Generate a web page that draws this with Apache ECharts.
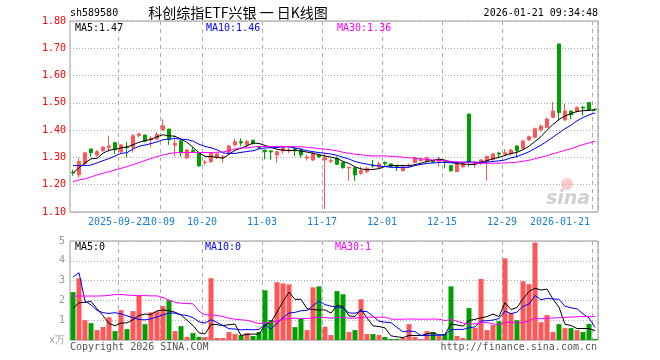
<!DOCTYPE html>
<html><head><meta charset="utf-8">
<script src="https://cdn.jsdelivr.net/npm/echarts@6/dist/echarts.min.js"></script>
<style>html,body{margin:0;padding:0;background:#fff}#c{width:660px;height:360px}</style>
</head><body><div id="c"></div>
<script>
const dates = ['2025-09-10','2025-09-11','2025-09-12','2025-09-15','2025-09-16','2025-09-17','2025-09-18','2025-09-19',
'2025-09-22','2025-09-23','2025-09-24','2025-09-25','2025-09-26','2025-09-29','2025-09-30',
'2025-10-09','2025-10-10','2025-10-13','2025-10-14','2025-10-15','2025-10-16','2025-10-17',
'2025-10-20','2025-10-21','2025-10-22','2025-10-23','2025-10-24','2025-10-27','2025-10-28','2025-10-29','2025-10-30','2025-10-31',
'2025-11-03','2025-11-04','2025-11-05','2025-11-06','2025-11-07','2025-11-10','2025-11-11','2025-11-12','2025-11-13','2025-11-14',
'2025-11-17','2025-11-18','2025-11-19','2025-11-20','2025-11-21','2025-11-24','2025-11-25','2025-11-26','2025-11-27','2025-11-28',
'2025-12-01','2025-12-02','2025-12-03','2025-12-04','2025-12-05','2025-12-08','2025-12-09','2025-12-10','2025-12-11','2025-12-12',
'2025-12-15','2025-12-16','2025-12-17','2025-12-18','2025-12-19','2025-12-22','2025-12-23','2025-12-24','2025-12-25','2025-12-26',
'2025-12-29','2025-12-30','2025-12-31','2026-01-05','2026-01-06','2026-01-07','2026-01-08','2026-01-09',
'2026-01-12','2026-01-13','2026-01-14','2026-01-15','2026-01-16','2026-01-19','2026-01-20','2026-01-21'];

const opens = [1.245,1.236,1.276,1.331,1.309,1.325,1.336,1.354,1.321,1.339,
1.336,1.380,1.382,1.365,1.368,1.401,1.404,1.345,1.361,1.299,
1.326,1.315,1.281,1.285,1.300,1.299,1.315,1.346,1.358,1.347,
1.362,1.338,1.327,1.324,1.309,1.324,1.324,1.333,1.327,1.298,
1.291,1.308,1.291,1.286,1.297,1.281,1.261,1.262,1.242,1.248,
1.272,1.264,1.282,1.276,1.268,1.252,1.268,1.281,1.288,1.285,
1.287,1.285,1.286,1.270,1.248,1.266,1.459,1.277,1.278,1.285,
1.293,1.316,1.311,1.313,1.342,1.333,1.364,1.374,1.401,1.410,
1.447,1.716,1.437,1.470,1.468,1.484,1.501,1.477];

const closes = [1.243,1.285,1.317,1.317,1.321,1.337,1.342,1.330,1.346,1.336,
1.379,1.386,1.360,1.370,1.384,1.416,1.366,1.352,1.317,1.327,
1.322,1.269,1.283,1.315,1.313,1.303,1.342,1.358,1.353,1.358,
1.352,1.335,1.321,1.320,1.321,1.336,1.328,1.324,1.309,1.301,
1.315,1.302,1.299,1.289,1.275,1.263,1.264,1.236,1.252,1.260,
1.269,1.276,1.278,1.267,1.264,1.266,1.272,1.299,1.293,1.299,
1.283,1.294,1.282,1.251,1.275,1.278,1.285,1.283,1.291,1.303,
1.313,1.312,1.317,1.327,1.325,1.360,1.376,1.405,1.415,1.441,
1.470,1.464,1.470,1.456,1.484,1.481,1.474,1.474];

const highs = [1.255,1.297,1.320,1.332,1.327,1.342,1.379,1.357,1.349,1.356,
1.386,1.391,1.383,1.378,1.394,1.440,1.405,1.381,1.362,1.332,
1.337,1.316,1.291,1.319,1.318,1.309,1.346,1.370,1.370,1.366,
1.366,1.341,1.328,1.325,1.323,1.340,1.336,1.335,1.333,1.309,
1.321,1.313,1.315,1.297,1.303,1.283,1.265,1.266,1.266,1.266,
1.291,1.284,1.285,1.278,1.270,1.268,1.278,1.303,1.299,1.303,
1.290,1.303,1.287,1.271,1.278,1.284,1.460,1.286,1.293,1.307,
1.315,1.321,1.330,1.331,1.344,1.364,1.380,1.409,1.421,1.446,
1.503,1.716,1.496,1.472,1.486,1.488,1.504,1.478];

const lows = [1.233,1.226,1.272,1.303,1.303,1.320,1.320,1.313,1.316,1.300,
1.318,1.374,1.355,1.337,1.364,1.397,1.346,1.303,1.303,1.294,
1.318,1.266,1.272,1.279,1.294,1.281,1.309,1.340,1.342,1.337,
1.346,1.331,1.293,1.290,1.281,1.313,1.315,1.305,1.299,1.288,
1.287,1.298,1.111,1.279,1.272,1.258,1.214,1.214,1.236,1.242,
1.262,1.260,1.266,1.264,1.250,1.248,1.265,1.278,1.285,1.281,
1.280,1.266,1.260,1.248,1.246,1.262,1.266,1.262,1.272,1.215,
1.288,1.297,1.305,1.307,1.300,1.330,1.360,1.370,1.395,1.407,
1.443,1.435,1.435,1.440,1.464,1.453,1.470,1.471];

// volume in 万
const volumes = [2.42,3.11,1.00,0.85,0.50,0.66,1.15,0.45,1.51,0.55,
1.46,2.23,0.80,1.40,1.45,1.71,2.01,0.45,0.70,0.16,
0.35,0.16,0.15,3.12,0.10,0.10,0.40,0.30,0.25,0.35,
0.20,0.40,2.51,1.01,2.92,2.86,2.81,0.65,1.06,0.50,
2.66,2.71,0.67,0.25,2.47,2.31,0.40,0.50,2.06,0.30,
0.30,0.25,0.15,0.05,0.05,0.10,0.80,0.15,0.05,0.45,
0.40,0.20,0.30,2.71,0.20,0.10,1.61,0.61,3.08,0.50,
0.76,0.95,4.12,1.37,1.00,2.97,2.82,4.92,0.90,1.26,
0.40,0.80,0.60,0.60,0.50,0.40,0.81,0.05];

const ma5Early = [1.243,1.262,1.280,1.295];
const ma10Early = [1.270,1.270,1.270,1.272,1.280,1.288,1.296,1.305,1.315];
const ma30Early = [1.211,1.217,1.222,1.228,1.236,1.242,1.248,1.254,1.260,1.266,1.274,1.281,1.289,1.296,1.303,
1.309,1.314,1.317,1.318,1.318,1.318,1.318,1.318,1.318,1.319,1.320,1.325,1.331,1.335];
const volMa5Early = [1.60,1.88,1.90,1.95];
const volMa10Early = [3.18,3.40,1.96,1.78,1.50,1.38,1.34,1.38,1.32];
const volMa30Early = [2.22,2.22,2.22,2.22,2.22,2.23,2.25,2.30,2.30,2.27,2.25,2.24,2.24,2.23,2.23,
2.14,2.02,1.90,1.86,1.84,1.83,1.45,1.28,1.26,1.24,1.18,1.10,1.05,1.02];

const xTickDates = ['2025-09-22','2025-10-09','2025-10-20','2025-11-03','2025-11-17','2025-12-01','2025-12-15','2025-12-29','2026-01-21'];
const xTickLabels = ['2025-09-22','10-09','10-20','11-03','11-17','12-01','12-15','12-29','2026-01-21'];
const priceAxis = [1.10, 1.80, 0.10];
const volAxis = [0, 5, 1];
const volZeroLabel = 'x万';
const mainLegend = ['MA5:1.47','MA10:1.46','MA30:1.36'];
const volLegend = ['MA5:0','MA10:0','MA30:1'];
const headerCode = 'sh589580';
const headerTitle = '科创综指ETF兴银 一 日K线图';
const headerTime = '2026-01-21 09:34:48';
const footerLeft = 'Copyright 2026 SINA.COM';
const footerRight = 'http://finance.sina.com.cn';

function movingAvg(vals, n, early) {
  return vals.map((v, i) => {
    if (i < n - 1) return early[i];
    let s = 0;
    for (let j = i - n + 1; j <= i; j++) s += vals[j];
    return +(s / n).toFixed(4);
  });
}

const RED = '#ff5757', GREEN = '#00a000';
const MONO = '"DejaVu Sans Mono", monospace';
const tickIdx = xTickDates.map(d => dates.indexOf(d));
const firstTick = tickIdx[0];
const lastTick = tickIdx[tickIdx.length - 1];

const chart = echarts.init(document.getElementById('c'), null, {renderer: 'canvas'});
const splitX = {show: true, interval: (i) => tickIdx.indexOf(i) >= 0, lineStyle: {color: '#aaa', type: [4, 4], width: 1}};
const splitY = {show: true, lineStyle: {color: '#aaa', type: [1, 2], width: 1}};
const labelRich = {
  a: {fontFamily: MONO, fontSize: 10, color: '#1a7fd0', padding: [0, 6, 0, 0]},
  b: {fontFamily: MONO, fontSize: 10, color: '#1a7fd0', padding: [0, 70, 0, 0]}
};
const labelFmt = (v, i) => {
  const k = tickIdx.indexOf(i);
  const t = k >= 0 ? xTickLabels[k] : '';
  return i === lastTick ? '{b|' + t + '}' : '{a|' + t + '}';
};

const option = {
  animation: false,
  backgroundColor: '#fff',
  grid: [
    {left: 70, top: 21, width: 528, height: 191, show: true, borderColor: '#999', borderWidth: 1, containLabel: false},
    {left: 70, top: 241, width: 528, height: 99, show: true, borderColor: '#999', borderWidth: 1, containLabel: false}
  ],
  xAxis: [
    {type: 'category', gridIndex: 0, data: dates, boundaryGap: true, position: 'bottom', offset: 0,
     axisLine: {show: false}, axisTick: {show: false}, splitLine: splitX,
     axisLabel: {show: true, interval: (i) => i !== firstTick && tickIdx.indexOf(i) >= 0, margin: 5,
       showMinLabel: true, showMaxLabel: true, hideOverlap: false, formatter: labelFmt, rich: labelRich}},
    {type: 'category', gridIndex: 1, data: dates, boundaryGap: true,
     axisLine: {show: false}, axisTick: {show: false}, axisLabel: {show: false}, splitLine: splitX},
    {type: 'category', gridIndex: 0, data: dates, boundaryGap: true, position: 'bottom', offset: 0,
     axisLine: {show: false}, axisTick: {show: false}, splitLine: {show: false},
     axisLabel: {show: true, interval: (i) => i === firstTick, margin: 5,
       showMinLabel: true, showMaxLabel: false, hideOverlap: false, formatter: labelFmt, rich: labelRich}}
  ],
  yAxis: [
    {type: 'value', gridIndex: 0, min: priceAxis[0], max: priceAxis[1], interval: priceAxis[2], scale: true,
     axisLine: {show: false}, axisTick: {show: false}, splitLine: splitY,
     axisLabel: {color: '#f00', fontFamily: MONO, fontSize: 10, margin: 4, showMinLabel: true, showMaxLabel: true,
       formatter: v => v.toFixed(2)}},
    {type: 'value', gridIndex: 1, min: volAxis[0], max: volAxis[1], interval: volAxis[2],
     axisLine: {show: false}, axisTick: {show: false}, splitLine: splitY,
     axisLabel: {color: '#999', fontFamily: MONO, fontSize: 10, margin: 5, showMinLabel: true, showMaxLabel: true,
       formatter: v => v === 0 ? volZeroLabel : String(v)}}
  ],
  series: [
    {type: 'candlestick', xAxisIndex: 0, yAxisIndex: 0, barWidth: 4,
     data: dates.map((d, i) => [opens[i], closes[i], lows[i], highs[i]]),
     itemStyle: {color: RED, color0: GREEN, borderColor: RED, borderColor0: GREEN, borderWidth: 1}},
    {type: 'line', xAxisIndex: 0, yAxisIndex: 0, data: movingAvg(closes, 5, ma5Early), symbol: 'none',
     lineStyle: {color: '#000', width: 1}, itemStyle: {color: '#000'}, silent: true, z: 5},
    {type: 'line', xAxisIndex: 0, yAxisIndex: 0, data: movingAvg(closes, 10, ma10Early), symbol: 'none',
     lineStyle: {color: '#0000ff', width: 1}, itemStyle: {color: '#0000ff'}, silent: true, z: 5},
    {type: 'line', xAxisIndex: 0, yAxisIndex: 0, data: movingAvg(closes, 30, ma30Early), symbol: 'none',
     lineStyle: {color: '#ff00ff', width: 1}, itemStyle: {color: '#ff00ff'}, silent: true, z: 5},
    {type: 'bar', xAxisIndex: 1, yAxisIndex: 1, barWidth: 5, data: volumes,
     itemStyle: {color: (p) => closes[p.dataIndex] >= opens[p.dataIndex] ? RED : GREEN}},
    {type: 'line', xAxisIndex: 1, yAxisIndex: 1, data: movingAvg(volumes, 5, volMa5Early), symbol: 'none',
     lineStyle: {color: '#000', width: 1}, silent: true, z: 5},
    {type: 'line', xAxisIndex: 1, yAxisIndex: 1, data: movingAvg(volumes, 10, volMa10Early), symbol: 'none',
     lineStyle: {color: '#0000ff', width: 1}, silent: true, z: 5},
    {type: 'line', xAxisIndex: 1, yAxisIndex: 1, data: movingAvg(volumes, 30, volMa30Early), symbol: 'none',
     lineStyle: {color: '#ff00ff', width: 1}, silent: true, z: 5}
  ],
  graphic: [
    {type: 'text', x: 70, y: 13, style: {text: headerCode, font: '10px ' + MONO, fill: '#000', align: 'left', verticalAlign: 'middle'}},
    {type: 'text', x: 238, y: 13, style: {text: headerTitle, font: '14px "Noto Sans CJK SC"', fill: '#000', align: 'center', verticalAlign: 'middle'}},
    {type: 'text', x: 598, y: 13, style: {text: headerTime, font: '10px ' + MONO, fill: '#000', align: 'right', verticalAlign: 'middle'}},
    {type: 'text', x: 75, y: 28, z: 10, style: {text: mainLegend[0], font: '10px ' + MONO, fill: '#000', align: 'left', verticalAlign: 'middle'}},
    {type: 'text', x: 206, y: 28, z: 10, style: {text: mainLegend[1], font: '10px ' + MONO, fill: '#0000ff', align: 'left', verticalAlign: 'middle'}},
    {type: 'text', x: 337, y: 28, z: 10, style: {text: mainLegend[2], font: '10px ' + MONO, fill: '#ff00ff', align: 'left', verticalAlign: 'middle'}},
    {type: 'text', x: 75, y: 247, z: 10, style: {text: volLegend[0], font: '10px ' + MONO, fill: '#000', align: 'left', verticalAlign: 'middle'}},
    {type: 'text', x: 205, y: 247, z: 10, style: {text: volLegend[1], font: '10px ' + MONO, fill: '#0000ff', align: 'left', verticalAlign: 'middle'}},
    {type: 'text', x: 335, y: 247, z: 10, style: {text: volLegend[2], font: '10px ' + MONO, fill: '#ff00ff', align: 'left', verticalAlign: 'middle'}},
    {type: 'text', x: 70, y: 347, style: {text: footerLeft, font: '10px ' + MONO, fill: '#555', align: 'left', verticalAlign: 'middle'}},
    {type: 'text', x: 597, y: 347, style: {text: footerRight, font: '10px ' + MONO, fill: '#555', align: 'right', verticalAlign: 'middle'}},
    {type: 'circle', shape: {cx: 567, cy: 184, r: 6}, style: {fill: 'rgba(240,110,110,0.35)'}, z: 0},
    {type: 'text', x: 568, y: 199, z: 0, style: {text: 'sina', font: 'italic bold 19px "DejaVu Sans"', fill: 'rgba(170,170,170,0.55)', align: 'center', verticalAlign: 'middle'}}
  ]
};
chart.setOption(option);
</script>
</body></html>
